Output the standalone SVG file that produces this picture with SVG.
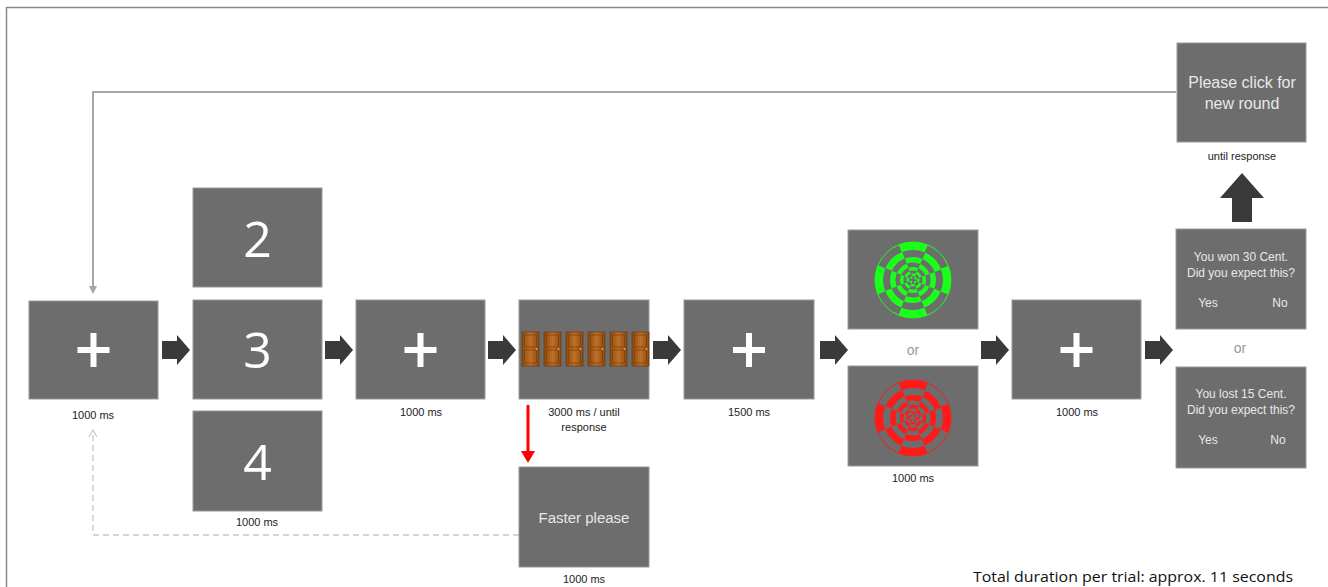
<svg xmlns="http://www.w3.org/2000/svg" width="1328" height="587" viewBox="0 0 1328 587">
  <style>
    .screen { fill: #6d6d6d; stroke: #9a9a9a; stroke-width: 1; }
    .lbl { font-family: "Liberation Sans", Arial, sans-serif; font-size: 11px; fill: #222; text-anchor: middle; }
    .digit { font-family: "Open Sans", "Liberation Sans", sans-serif; font-size: 50px; fill: #fff; text-anchor: middle; }
    .scr { font-family: "Liberation Sans", Arial, sans-serif; fill: #e8e8e8; text-anchor: middle; }
    .or { font-family: "Liberation Sans", Arial, sans-serif; font-size: 14px; fill: #9a9a9a; text-anchor: middle; }
    .step { fill: #3a3a3a; }
    /* eight sectors per ring, alternate rings shifted by one sector */
    .r1 { fill: none; stroke-dasharray: 26.70 26.70; stroke-dashoffset: 13.35; }
    .r2 { fill: none; stroke-dasharray: 20.81 20.81; stroke-dashoffset: 31.22; }
    .r3 { fill: none; stroke-dasharray: 15.90 15.90; stroke-dashoffset: 7.95; }
    .r4 { fill: none; stroke-dasharray: 11.98 11.98; stroke-dashoffset: 17.97; }
    .r5 { fill: none; stroke-dasharray: 8.84 8.84; stroke-dashoffset: 4.42; }
    .r6 { fill: none; stroke-dasharray: 6.28 6.28; stroke-dashoffset: 9.42; }
    .r7 { fill: none; stroke-dasharray: 4.12 4.12; stroke-dashoffset: 2.06; }
    .r8 { fill: none; stroke-dasharray: 2.36 2.36; stroke-dashoffset: 3.54; }
  </style>
  <defs>
    <!-- white fixation cross -->
    <g id="cross">
      <rect x="-16" y="-3" width="32" height="6" fill="#fff"/>
      <rect x="-3" y="-17" width="6" height="34" fill="#fff"/>
    </g>
    <!-- block arrow between screens, tip at (28,0) -->
    <path id="step" d="M0,-9 H15 V-15 L28,0 L15,15 V9 H0 Z"/>
    <!-- radial checkerboard, coloured through stroke inheritance -->
    <g id="checker">
      <circle class="r1" r="34" stroke-width="8"/>
      <circle class="r2" r="26.5" stroke-width="7"/>
      <circle class="r3" r="20.25" stroke-width="5.5"/>
      <circle class="r4" r="15.25" stroke-width="4.5"/>
      <circle class="r5" r="11.25" stroke-width="3.5"/>
      <circle class="r6" r="8" stroke-width="3"/>
      <circle class="r7" r="5.25" stroke-width="2.5"/>
      <circle class="r8" r="3" stroke-width="2"/>
      <circle r="38" fill="none" stroke-width="1"/>
    </g>
    <!-- wooden door -->
    <linearGradient id="wood" x1="0" y1="0" x2="1" y2="0">
      <stop offset="0" stop-color="#8a4a12"/>
      <stop offset="0.5" stop-color="#c06f25"/>
      <stop offset="1" stop-color="#8a4a12"/>
    </linearGradient>
    <g id="door">
      <rect x="0" y="0" width="17" height="34" fill="url(#wood)" stroke="#6a3508" stroke-width="0.6"/>
      <rect x="2.5" y="3" width="12" height="12" fill="none" stroke="#7a3f0c" stroke-width="0.7"/>
      <rect x="2.5" y="18" width="12" height="13" fill="none" stroke="#7a3f0c" stroke-width="0.7"/>
      <circle cx="14.5" cy="17" r="0.9" fill="#e0b050"/>
    </g>
    <marker id="headGray" markerWidth="8" markerHeight="8" refX="4" refY="4" orient="auto" markerUnits="userSpaceOnUse">
      <path d="M0,0 L8,4 L0,8 Z" fill="#a6a6a6"/>
    </marker>
    <marker id="headOpen" markerWidth="10" markerHeight="10" refX="8" refY="5" orient="auto" markerUnits="userSpaceOnUse">
      <path d="M1,1 L8,5 L1,9" fill="none" stroke="#c8c8c8" stroke-width="1.2"/>
    </marker>
  </defs>

  <rect width="1328" height="587" fill="#fff"/>
  <!-- frame -->
  <path d="M6.5,587 V7.5 H1328" fill="none" stroke="#8a8a8a" stroke-width="1.5"/>

  <!-- connectors -->
  <g id="connectors">
    <path d="M1176,92 H93 V290" fill="none" stroke="#a6a6a6" stroke-width="2" marker-end="url(#headGray)"/>
    <path d="M519,535 H93 V430" fill="none" stroke="#c8c8c8" stroke-width="1.3" stroke-dasharray="6 4" marker-end="url(#headOpen)"/>
    <use href="#step" class="step" x="162" y="350"/>
    <use href="#step" class="step" x="325" y="350"/>
    <use href="#step" class="step" x="488" y="350"/>
    <use href="#step" class="step" x="653" y="350"/>
    <use href="#step" class="step" x="820" y="350"/>
    <use href="#step" class="step" x="981" y="350"/>
    <use href="#step" class="step" x="1145" y="350"/>
    <path class="step" d="M1232,222 V198 H1220 L1242,173 L1264,198 H1252 V222 Z"/>
    <path d="M526.5,405 H529.5 V451 H535 L528,463 L521,451 H526.5 Z" fill="#f00"/>
  </g>

  <!-- fixation 1 -->
  <g id="fix1">
    <rect class="screen" x="29" y="301" width="129" height="98"/>
    <use href="#cross" x="93.5" y="350"/>
    <text class="lbl" x="93" y="419">1000 ms</text>
  </g>

  <!-- countdown -->
  <g id="count2">
    <rect class="screen" x="193" y="188" width="129" height="99"/>
    <text class="digit" x="257.5" y="257">2</text>
  </g>
  <g id="count3">
    <rect class="screen" x="193" y="300" width="129" height="99"/>
    <text class="digit" x="257.5" y="368">3</text>
  </g>
  <g id="count4">
    <rect class="screen" x="193" y="411" width="129" height="100"/>
    <text class="digit" x="257.5" y="480">4</text>
    <text class="lbl" x="257" y="526">1000 ms</text>
  </g>

  <!-- fixation 2 -->
  <g id="fix2">
    <rect class="screen" x="356" y="300" width="129" height="99"/>
    <use href="#cross" x="420.5" y="350"/>
    <text class="lbl" x="421" y="416">1000 ms</text>
  </g>

  <!-- door choice -->
  <g id="doors">
    <rect class="screen" x="519" y="300" width="130" height="99"/>
    <use href="#door" x="522" y="332"/>
    <use href="#door" x="544" y="332"/>
    <use href="#door" x="566" y="332"/>
    <use href="#door" x="588" y="332"/>
    <use href="#door" x="610" y="332"/>
    <use href="#door" x="632" y="332"/>
    <text class="lbl" x="584" y="416">3000 ms / until</text>
    <text class="lbl" x="584" y="431">response</text>
  </g>

  <!-- too slow -->
  <g id="faster">
    <rect class="screen" x="519" y="467" width="130" height="100"/>
    <text class="scr" x="584" y="523" font-size="15">Faster please</text>
    <text class="lbl" x="584" y="583">1000 ms</text>
  </g>

  <!-- fixation 3 -->
  <g id="fix3">
    <rect class="screen" x="684" y="300" width="130" height="99"/>
    <use href="#cross" x="749" y="350"/>
    <text class="lbl" x="749" y="416">1500 ms</text>
  </g>

  <!-- outcome: win -->
  <g id="outcomeWin">
    <rect class="screen" x="848" y="230" width="130" height="99"/>
    <use href="#checker" x="913" y="280" stroke="#1aff1a"/>
  </g>
  <text class="or" x="913" y="355">or</text>
  <!-- outcome: loss -->
  <g id="outcomeLoss">
    <rect class="screen" x="848" y="366" width="130" height="100"/>
    <use href="#checker" x="913" y="418" stroke="#ff1a1a"/>
    <text class="lbl" x="913" y="482">1000 ms</text>
  </g>

  <!-- fixation 4 -->
  <g id="fix4">
    <rect class="screen" x="1012" y="300" width="129" height="99"/>
    <use href="#cross" x="1076.5" y="350"/>
    <text class="lbl" x="1077" y="416">1000 ms</text>
  </g>

  <!-- expectation question -->
  <g id="askWin">
    <rect class="screen" x="1176" y="229" width="130" height="100"/>
    <text class="scr" x="1241" y="261" font-size="12">You won 30 Cent.</text>
    <text class="scr" x="1241" y="277" font-size="12">Did you expect this?</text>
    <text class="scr" x="1208" y="307" font-size="12">Yes</text>
    <text class="scr" x="1280" y="307" font-size="12">No</text>
  </g>
  <text class="or" x="1240" y="353">or</text>
  <g id="askLoss">
    <rect class="screen" x="1176" y="367" width="130" height="101"/>
    <text class="scr" x="1241" y="398" font-size="12">You lost 15 Cent.</text>
    <text class="scr" x="1241" y="414" font-size="12">Did you expect this?</text>
    <text class="scr" x="1208" y="444" font-size="12">Yes</text>
    <text class="scr" x="1278" y="444" font-size="12">No</text>
  </g>

  <!-- next round -->
  <g id="newRound">
    <rect class="screen" x="1177" y="43" width="129" height="99"/>
    <text class="scr" x="1242" y="88" font-size="16">Please click for</text>
    <text class="scr" x="1242" y="109" font-size="16">new round</text>
    <text class="lbl" x="1242" y="160">until response</text>
  </g>

  <text x="973" y="582" font-family="Open Sans, 'Liberation Sans', sans-serif" font-size="14" fill="#111" textLength="320" lengthAdjust="spacingAndGlyphs">Total duration per trial: approx. 11 seconds</text>
</svg>
